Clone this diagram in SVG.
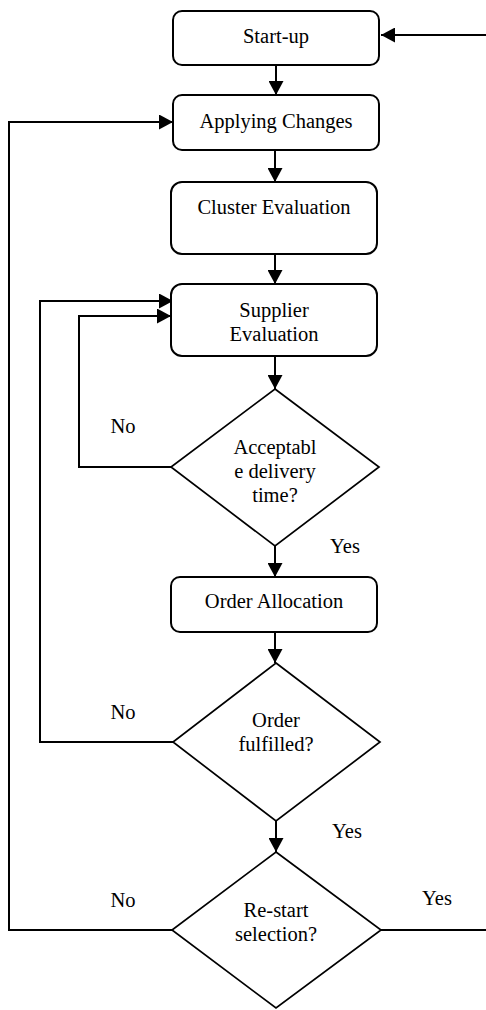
<svg xmlns="http://www.w3.org/2000/svg" width="486" height="1010" viewBox="0 0 486 1010">
<style>
.box{fill:#fff;stroke:#000;stroke-width:2}
.dia{fill:#fff;stroke:#000;stroke-width:1.7}
.c{fill:none;stroke:#000;stroke-width:2}
text{font-family:'Liberation Serif',Tinos,'Times New Roman',serif;font-size:20.5px;fill:#000}
.m{text-anchor:middle}
</style>
<defs>
<marker id="ah" markerUnits="userSpaceOnUse" markerWidth="15" markerHeight="15" refX="14" refY="7.5" orient="auto">
<path d="M0,0 L14,7.5 L0,15 z" fill="#000"/>
</marker>
</defs>
<rect width="486" height="1010" fill="#fff"/>
<g id="connectors">
<line class="c" x1="276" y1="65" x2="276" y2="95" marker-end="url(#ah)"/>
<line class="c" x1="275" y1="150" x2="275" y2="182" marker-end="url(#ah)"/>
<line class="c" x1="275" y1="254" x2="275" y2="284" marker-end="url(#ah)"/>
<line class="c" x1="275" y1="356" x2="275" y2="389" marker-end="url(#ah)"/>
<line class="c" x1="275" y1="546" x2="275" y2="577" marker-end="url(#ah)"/>
<line class="c" x1="275" y1="632" x2="275" y2="663" marker-end="url(#ah)"/>
<line class="c" x1="276" y1="821" x2="276" y2="852" marker-end="url(#ah)"/>
<polyline class="c" points="171,467 79,467 79,316 171,316" marker-end="url(#ah)"/>
<polyline class="c" points="173,742 40,742 40,301 173,301" marker-end="url(#ah)"/>
<polyline class="c" points="172,930 9,930 9,122 173,122" marker-end="url(#ah)"/>
<line class="c" x1="381" y1="930" x2="486" y2="930"/>
<line class="c" x1="486" y1="35" x2="381" y2="35" marker-end="url(#ah)"/>
<text class="m" x="123" y="433">No</text>
<text class="m" x="345" y="553">Yes</text>
<text class="m" x="123" y="719">No</text>
<text class="m" x="347" y="838">Yes</text>
<text class="m" x="123" y="907">No</text>
<text class="m" x="437" y="905">Yes</text>
</g>
<g id="startup">
<rect class="box" x="173" y="11" width="206" height="54" rx="9"/>
<text class="m" x="276" y="43">Start-up</text>
</g>
<g id="applying">
<rect class="box" x="173" y="95" width="206" height="55" rx="9"/>
<text class="m" x="276" y="128">Applying Changes</text>
</g>
<g id="cluster">
<rect class="box" x="171" y="182" width="206" height="72" rx="11"/>
<text class="m" x="274" y="214">Cluster Evaluation</text>
</g>
<g id="supplier">
<rect class="box" x="171" y="284" width="206" height="72" rx="11"/>
<text class="m" x="274" y="317">Supplier</text>
<text class="m" x="274" y="341">Evaluation</text>
</g>
<g id="acceptable">
<polygon class="dia" points="275,389 379,467 275,546 171,467"/>
<text class="m" x="275" y="454">Acceptabl</text>
<text class="m" x="275" y="478">e delivery</text>
<text class="m" x="275" y="502">time?</text>
</g>
<g id="allocation">
<rect class="box" x="171" y="577" width="206" height="55" rx="9"/>
<text class="m" x="274" y="608">Order Allocation</text>
</g>
<g id="fulfilled">
<polygon class="dia" points="276,663 380,742 276,821 173,742"/>
<text class="m" x="276" y="727">Order</text>
<text class="m" x="276" y="751">fulfilled?</text>
</g>
<g id="restart">
<polygon class="dia" points="276,852 381,930 276,1008 172,930"/>
<text class="m" x="276" y="917">Re-start</text>
<text class="m" x="276" y="941">selection?</text>
</g>
</svg>
